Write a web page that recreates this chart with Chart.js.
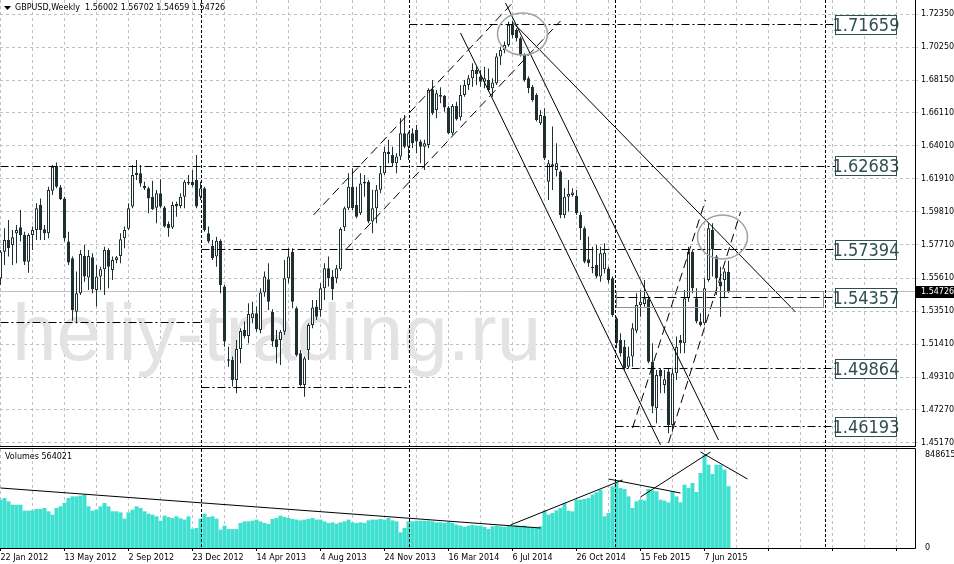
<!DOCTYPE html>
<html>
<head>
<meta charset="utf-8">
<script src="https://cdn.jsdelivr.net/npm/chart.js@4.4.1/dist/chart.umd.min.js"></script>
<style>
  html, body { margin: 0; padding: 0; background: #fff; }
  #wrap { position: relative; width: 954px; height: 564px; overflow: hidden; }
  #priceBox { position: absolute; left: 0; top: 0; width: 954px; height: 447px; }
  #volBox { position: absolute; left: 0; top: 447px; width: 954px; height: 117px; }
</style>
</head>
<body>
<div id="wrap">
  <div id="priceBox"><canvas id="priceChart"></canvas></div>
  <div id="volBox"><canvas id="volChart"></canvas></div>
</div>
<script>
// GBPUSD weekly bars (bar 0 = week of 22 Jan 2012)
const opens = [
  1.5559,1.5728,1.5802,1.5771,1.5845,1.5883,1.5834,1.5665,1.5834,1.5866,
  1.6024,1.5870,1.5845,1.6115,1.6271,1.6136,1.6066,1.5792,1.5686,1.5348,
  1.5464,1.5701,1.5564,1.5693,1.5485,1.5570,1.5616,1.5739,1.5612,1.5676,
  1.5701,1.5813,1.5874,1.6014,1.6229,1.6225,1.6144,1.6130,1.6077,1.6007,
  1.6098,1.6009,1.5904,1.5882,1.6030,1.6018,1.6077,1.6172,1.6172,1.6183,
  1.6077,1.6130,1.5845,1.5764,1.5697,1.5798,1.5507,1.5046,1.5042,1.4915,
  1.5111,1.5232,1.5194,1.5306,1.5337,1.5232,1.5469,1.5553,1.5348,1.5173,
  1.5168,1.5221,1.5559,1.5728,1.5369,1.5084,1.4883,1.5105,1.5264,1.5380,
  1.5359,1.5496,1.5623,1.5570,1.5559,1.5616,1.5883,1.6003,1.6140,1.6024,
  1.5971,1.6161,1.6172,1.5919,1.6003,1.6120,1.6225,1.6362,1.6341,1.6288,
  1.6331,1.6479,1.6394,1.6479,1.6500,1.6426,1.6394,1.6405,1.6758,1.6627,
  1.6711,1.6716,1.6643,1.6479,1.6652,1.6580,1.6722,1.6785,1.6827,1.6880,
  1.6838,1.6806,1.6817,1.6764,1.6796,1.6965,1.7007,1.7039,1.7165,1.7134,
  1.7081,1.6975,1.6827,1.6774,1.6722,1.6542,1.6588,1.6172,1.6282,1.6246,
  1.6236,1.5961,1.6077,1.6088,1.6081,1.5961,1.5876,1.5680,1.5623,1.5644,
  1.5570,1.5616,1.5622,1.5559,1.5306,1.5168,1.5126,1.4999,1.5063,1.5227,
  1.5390,1.5397,1.5426,1.5031,1.4735,1.4978,1.4883,1.4968,1.4630,1.4957,
  1.5168,1.5147,1.5433,1.5728,1.5433,1.5285,1.5274,1.5549,1.5866,1.5697,
  1.5538,1.5549,1.56002
];
const highs = [
  1.5739,1.5876,1.5929,1.5866,1.5897,1.5993,1.5855,1.5845,1.5887,1.6035,
  1.6066,1.5897,1.6140,1.6278,1.6293,1.6151,1.6077,1.5855,1.5697,1.5602,
  1.5739,1.5771,1.5739,1.5718,1.5644,1.5633,1.5760,1.5750,1.5697,1.5701,
  1.5845,1.5887,1.6035,1.6278,1.6309,1.6278,1.6172,1.6140,1.6178,1.6119,
  1.6187,1.6018,1.5919,1.6045,1.6045,1.6098,1.6183,1.6214,1.6246,1.6341,
  1.6172,1.6140,1.5887,1.5802,1.5823,1.5807,1.5517,1.5126,1.5063,1.5168,
  1.5243,1.5285,1.5401,1.5411,1.5380,1.5496,1.5602,1.5654,1.5363,1.5232,
  1.5232,1.5676,1.5750,1.5750,1.5380,1.5105,1.5063,1.5274,1.5422,1.5422,
  1.5528,1.5654,1.5697,1.5612,1.5644,1.5883,1.6014,1.6225,1.6257,1.6140,
  1.6225,1.6214,1.6183,1.6120,1.6151,1.6267,1.6394,1.6437,1.6394,1.6352,
  1.6574,1.6595,1.6489,1.6510,1.6532,1.6437,1.6437,1.6764,1.6817,1.6753,
  1.6770,1.6722,1.6652,1.6665,1.6679,1.6785,1.6817,1.6848,1.6922,1.6901,
  1.6880,1.6901,1.6890,1.6827,1.6986,1.7028,1.7060,1.7186,1.7191,1.7144,
  1.7091,1.6986,1.6838,1.6785,1.6732,1.6626,1.6637,1.6310,1.6521,1.6415,
  1.6246,1.6130,1.6183,1.6130,1.6119,1.5982,1.5887,1.5824,1.5760,1.5771,
  1.5760,1.5781,1.5633,1.5570,1.5316,1.5211,1.5168,1.5126,1.5274,1.5464,
  1.5485,1.5549,1.5443,1.5147,1.4978,1.4989,1.4978,1.4989,1.4989,1.5190,
  1.5200,1.5485,1.5760,1.5739,1.5496,1.5337,1.5559,1.5908,1.5908,1.5707,
  1.5633,1.5623,1.56702
];
const lows = [
  1.5517,1.5644,1.5697,1.5644,1.5654,1.5792,1.5644,1.5595,1.5739,1.5802,
  1.5802,1.5802,1.5813,1.6088,1.6130,1.6056,1.5792,1.5644,1.5290,1.5275,
  1.5454,1.5538,1.5485,1.5464,1.5380,1.5485,1.5454,1.5496,1.5549,1.5654,
  1.5654,1.5750,1.5866,1.6003,1.6183,1.6140,1.6119,1.5971,1.5993,1.5908,
  1.6003,1.5882,1.5823,1.5872,1.5950,1.6003,1.6003,1.6151,1.6140,1.6003,
  1.6056,1.5855,1.5781,1.5676,1.5633,1.5464,1.5126,1.4999,1.4873,1.4830,
  1.5021,1.5179,1.5147,1.5274,1.5221,1.5211,1.5443,1.5359,1.5126,1.5021,
  1.5010,1.5200,1.5528,1.5369,1.5063,1.4873,1.4809,1.5042,1.5242,1.5295,
  1.5316,1.5422,1.5507,1.5422,1.5528,1.5608,1.5860,1.5993,1.5993,1.5940,
  1.5961,1.6077,1.5908,1.5845,1.5908,1.6099,1.6214,1.6288,1.6267,1.6225,
  1.6310,1.6384,1.6310,1.6384,1.6352,1.6288,1.6246,1.6384,1.6595,1.6574,
  1.6669,1.6616,1.6475,1.6468,1.6560,1.6560,1.6711,1.6753,1.6774,1.6785,
  1.6774,1.6764,1.6743,1.6711,1.6785,1.6912,1.6986,1.7028,1.7081,1.7060,
  1.6965,1.6806,1.6732,1.6679,1.6553,1.6531,1.6310,1.6056,1.6119,1.6204,
  1.5940,1.5940,1.5982,1.6077,1.5961,1.5802,1.5654,1.5633,1.5591,1.5559,
  1.5538,1.5591,1.5528,1.5316,1.5116,1.5063,1.4978,1.4989,1.4999,1.5211,
  1.5316,1.5380,1.5021,1.4704,1.4640,1.4830,1.4830,1.4577,1.4587,1.4915,
  1.5084,1.5084,1.5411,1.5464,1.5274,1.5253,1.5264,1.5538,1.5570,1.5454,
  1.5316,1.5433,1.54659
];
const closes = [
  1.5728,1.5802,1.5750,1.5819,1.5866,1.5834,1.5665,1.5834,1.5866,1.6003,
  1.5866,1.5845,1.6119,1.6267,1.6140,1.6060,1.5813,1.5659,1.5359,1.5464,
  1.5714,1.5570,1.5701,1.5490,1.5570,1.5616,1.5739,1.5633,1.5676,1.5693,
  1.5807,1.5866,1.6003,1.6214,1.6214,1.6161,1.6130,1.6066,1.5997,1.6098,
  1.6014,1.5887,1.5876,1.6024,1.6014,1.6077,1.6172,1.6161,1.6151,1.6014,
  1.6130,1.5866,1.5792,1.5686,1.5798,1.5517,1.5158,1.5037,1.4915,1.5111,
  1.5226,1.5194,1.5333,1.5337,1.5236,1.5469,1.5570,1.5411,1.5158,1.5122,
  1.5221,1.5559,1.5697,1.5411,1.5073,1.4883,1.5052,1.5264,1.5375,1.5316,
  1.5496,1.5623,1.5559,1.5490,1.5623,1.5872,1.6003,1.6140,1.6003,1.5950,
  1.6161,1.6172,1.5919,1.6003,1.6120,1.6225,1.6362,1.6348,1.6288,1.6331,
  1.6479,1.6394,1.6479,1.6415,1.6426,1.6394,1.6415,1.6753,1.6605,1.6732,
  1.6722,1.6643,1.6479,1.6652,1.6567,1.6722,1.6785,1.6827,1.6880,1.6855,
  1.6806,1.6827,1.6753,1.6800,1.6965,1.7007,1.7039,1.7165,1.7102,1.7081,
  1.6975,1.6817,1.6764,1.6690,1.6563,1.6595,1.6320,1.6288,1.6267,1.6288,
  1.5961,1.6077,1.6094,1.6103,1.5971,1.5876,1.5665,1.5654,1.5633,1.5570,
  1.5718,1.5722,1.5549,1.5327,1.5147,1.5084,1.4989,1.5063,1.5242,1.5390,
  1.5411,1.5433,1.5031,1.4746,1.4947,1.4936,1.4919,1.4630,1.4957,1.5126,
  1.5147,1.5433,1.5728,1.5496,1.5285,1.5264,1.5496,1.5876,1.5743,1.5559,
  1.5507,1.5602,1.54726
];
const volumes = [
  441000,456000,426000,395000,395000,395000,341000,341000,344000,356000,
  356000,365000,335000,304000,365000,380000,411000,456000,471000,471000,
  478000,487000,380000,341000,350000,380000,411000,380000,335000,335000,
  325000,268000,325000,350000,380000,365000,335000,313000,304000,289000,
  249000,295000,283000,274000,289000,271000,259000,289000,176000,183000,
  268000,313000,283000,289000,268000,167000,204000,173000,173000,173000,
  228000,243000,243000,249000,259000,243000,228000,219000,265000,274000,
  295000,283000,274000,265000,259000,252000,259000,265000,274000,259000,
  259000,243000,228000,234000,222000,234000,243000,259000,234000,228000,
  234000,228000,252000,259000,259000,265000,259000,274000,252000,243000,
  143000,183000,243000,243000,249000,249000,249000,249000,243000,234000,
  234000,228000,237000,228000,213000,204000,192000,204000,210000,204000,
  204000,192000,173000,198000,204000,198000,192000,204000,198000,204000,
  198000,204000,192000,183000,183000,198000,341000,304000,319000,344000,
  365000,411000,341000,335000,441000,441000,447000,456000,487000,508000,
  532000,289000,319000,563000,599000,548000,538000,471000,365000,426000,
  441000,435000,538000,526000,517000,441000,432000,417000,517000,471000,
  417000,578000,548000,593000,511000,684000,848615,760000,675000,760000,
  760000,715000,564021
];
const dateLabels = ['22 Jan 2012', '13 May 2012', '2 Sep 2012', '23 Dec 2012', '14 Apr 2013', '4 Aug 2013',
  '24 Nov 2013', '16 Mar 2014', '6 Jul 2014', '26 Oct 2014', '15 Feb 2015', '7 Jun 2015'];
const priceTicks = [1.72350, 1.70250, 1.68150, 1.66110, 1.64010, 1.61910, 1.59810, 1.57710,
  1.55610, 1.53510, 1.51410, 1.49310, 1.47270, 1.45170];
const levelPrices = [1.71659, 1.62683, 1.57394, 1.54357, 1.49864, 1.46193];

// drawn objects, in (bar, price) / (bar, volume) units
const levelStarts = [102.25, 0, 50.25, 153.75, 153.75, 153.75];
const levelDashed = [false, false, false, true, false, false];
const shortLevels = [{ price: 1.5276, from: 0, to: 50.25 }, { price: 1.4870, from: 50.25, to: 102.25 }];
const vLines = [50.25, 102.25, 153.75, 206.25];
const trendLines = [
  { a: [78.25, 1.5961], b: [128, 1.7305], dash: [9, 5] },
  { a: [86.25, 1.5739], b: [140, 1.7191], dash: [9, 5] },
  { a: [115, 1.7115], b: [165, 1.4503], dash: [] },
  { a: [126.25, 1.7305], b: [179.5, 1.4534], dash: [] },
  { a: [128, 1.7184], b: [198.75, 1.5346], dash: [] },
  { a: [158, 1.4610], b: [176.25, 1.6056], dash: [9, 5] },
  { a: [167, 1.4515], b: [185, 1.5979], dash: [9, 5] }
];
const ellipses = [
  { c: [130.5, 1.7108], rx: 6.25, ry: 0.0133 },
  { c: [180.5, 1.5821], rx: 6.25, ry: 0.0139 }
];
const zoneBox = { a: [154, 1.5473], b: [205.75, 1.5371] };
const volLines = [
  { a: [0, 547500], b: [135, 182500] },
  { a: [127.5, 209875], b: [155.5, 620500] },
  { a: [152, 629625], b: [170, 501875] },
  { a: [160, 465375], b: [177.5, 876000] },
  { a: [175, 876000], b: [186.75, 629625] }
];

const viewStart = -0.125, viewEnd = 228.625;
const priceTop = 1.73238, priceBottom = 1.44898;
const levelBoxBar = 208.625;
const candleColor = '#1f3030';
const gridColor = '#c0c0c0';
const ink = '#2f4f4f';
const last = closes.length - 1;

const gridBars = [];
for (let b = 0; b <= 224; b += 8) gridBars.push(b);

Chart.defaults.font.family = '"DejaVu Sans", sans-serif';
Chart.defaults.font.size = 8;
Chart.defaults.color = '#000';

function xAxis(withLabels) {
  return {
    type: 'linear', min: viewStart, max: viewEnd, offset: false,
    afterBuildTicks: s => { s.ticks = gridBars.map(v => ({ value: v })); },
    afterFit: s => { s.height = withLabels ? 16 : 0; s.paddingLeft = 0; s.paddingRight = 0; },
    grid: { offset: false, color: gridColor, drawTicks: withLabels, tickLength: 3,
      tickColor: c => (c.tick && c.tick.value % 16 === 0 ? '#000' : 'rgba(0,0,0,0)') },
    border: { display: false, dash: [3, 3] },
    ticks: { display: withLabels, autoSkip: false, maxRotation: 0, minRotation: 0, align: 'start', padding: 2,
      callback: v => (v % 16 === 0 ? (dateLabels[v / 16] || '') : '') }
  };
}

function seg(ctx, p1, p2, dash, color, width) {
  ctx.beginPath();
  ctx.setLineDash(dash);
  ctx.strokeStyle = color;
  ctx.lineWidth = width;
  ctx.moveTo(p1[0], p1[1]);
  ctx.lineTo(p2[0], p2[1]);
  ctx.stroke();
}
const crisp = v => Math.floor(v) + 0.5;

const priceObjects = {
  id: 'priceObjects',
  beforeDatasetsDraw(chart) {
    const { ctx, chartArea: a, scales: { y } } = chart;
    ctx.save();
    ctx.beginPath(); ctx.rect(a.left, a.top, a.right - a.left, a.bottom - a.top); ctx.clip();
    ctx.font = '80px "Liberation Sans", Arial, sans-serif';
    ctx.fillStyle = '#e3e3e3';
    ctx.textBaseline = 'alphabetic';
    ctx.fillText('heliy-trading.ru', 12, 360);
    const cy = crisp(y.getPixelForValue(closes[last]));
    seg(ctx, [a.left, cy], [a.right, cy], [], '#c0c0c0', 1);
    ctx.restore();
  },
  afterDatasetsDraw(chart) {
    const { ctx, chartArea: a, scales: { x, y } } = chart;
    const P = p => [x.getPixelForValue(p[0]), y.getPixelForValue(p[1])];
    ctx.save();
    ctx.beginPath(); ctx.rect(a.left, a.top, a.right - a.left, a.bottom - a.top); ctx.clip();
    vLines.forEach(b => {
      const px = crisp(x.getPixelForValue(b));
      seg(ctx, [px, a.top], [px, a.bottom], [3, 2], '#000', 1);
    });
    shortLevels.forEach(l => {
      const py = crisp(y.getPixelForValue(l.price));
      seg(ctx, [x.getPixelForValue(l.from), py], [x.getPixelForValue(l.to), py], [8, 3, 2, 3], '#000', 1);
    });
    const boxX = Math.round(x.getPixelForValue(levelBoxBar));
    levelPrices.forEach((p, i) => {
      const py = crisp(y.getPixelForValue(p));
      seg(ctx, [x.getPixelForValue(levelStarts[i]), py], [boxX, py], levelDashed[i] ? [9, 4] : [8, 3, 2, 3], '#000', 1);
    });
    trendLines.forEach(t => seg(ctx, P(t.a), P(t.b), t.dash, '#000', 1));
    ctx.setLineDash([]);
    ctx.strokeStyle = '#a0a0a0';
    ctx.lineWidth = 1.5;
    ellipses.forEach(e => {
      const c = P(e.c);
      const rx = x.getPixelForValue(e.c[0] + e.rx) - c[0];
      const ry = y.getPixelForValue(e.c[1] - e.ry) - c[1];
      ctx.beginPath(); ctx.ellipse(c[0], c[1], rx, ry, 0, 0, Math.PI * 2); ctx.stroke();
    });
    const r1 = P(zoneBox.a), r2 = P(zoneBox.b);
    ctx.lineWidth = 1;
    ctx.strokeStyle = '#909090';
    ctx.strokeRect(crisp(r1[0]), crisp(r1[1]), Math.round(r2[0] - r1[0]), Math.round(r2[1] - r1[1]));
    // level price boxes
    ctx.font = '18px "Liberation Sans Narrow", "DejaVu Sans Condensed", sans-serif';
    ctx.textAlign = 'center';
    ctx.textBaseline = 'middle';
    levelPrices.forEach(p => {
      const py = Math.round(y.getPixelForValue(p));
      ctx.fillStyle = '#fff';
      ctx.fillRect(boxX, py - 9, 61, 19);
      ctx.strokeStyle = ink;
      ctx.strokeRect(boxX + 0.5, py - 9.5, 61, 19);
      ctx.fillStyle = ink;
      ctx.fillText(p.toFixed(5), boxX + 31, py + 1);
    });
    ctx.restore();
  },
  afterDraw(chart) {
    const { ctx, chartArea: a, scales: { y } } = chart;
    ctx.save();
    ctx.setLineDash([]);
    seg(ctx, [a.right + 0.5, 0], [a.right + 0.5, a.bottom], [], '#000', 1);
    seg(ctx, [0, a.bottom - 0.5], [a.right + 0.5, a.bottom - 0.5], [], '#000', 1);
    // title
    ctx.fillStyle = '#000';
    ctx.beginPath(); ctx.moveTo(4, 6); ctx.lineTo(11, 6); ctx.lineTo(7.5, 10); ctx.closePath(); ctx.fill();
    ctx.font = '8px "DejaVu Sans", sans-serif';
    ctx.textBaseline = 'middle';
    ctx.textAlign = 'left';
    ctx.fillText('GBPUSD,Weekly  ' + [opens[last], highs[last], lows[last], closes[last]].map(v => v.toFixed(5)).join(' '), 15, 8);
    // current price tag
    const py = Math.round(y.getPixelForValue(closes[last]));
    ctx.fillRect(a.right + 1, py - 6, 39, 12);
    ctx.fillStyle = '#fff';
    ctx.fillText(closes[last].toFixed(5), a.right + 6, py);
    ctx.restore();
  }
};

const volObjects = {
  id: 'volObjects',
  afterDatasetsDraw(chart) {
    const { ctx, chartArea: a, scales: { x, y } } = chart;
    const P = p => [x.getPixelForValue(p[0]), y.getPixelForValue(p[1])];
    ctx.save();
    ctx.beginPath(); ctx.rect(a.left, a.top, a.right - a.left, a.bottom - a.top); ctx.clip();
    vLines.forEach(b => {
      const px = crisp(x.getPixelForValue(b));
      seg(ctx, [px, a.top], [px, a.bottom], [3, 2], '#000', 1);
    });
    volLines.forEach(l => seg(ctx, P(l.a), P(l.b), [], '#000', 1));
    ctx.restore();
  },
  afterDraw(chart) {
    const { ctx, chartArea: a } = chart;
    ctx.save();
    seg(ctx, [0, a.top - 0.5], [a.right + 0.5, a.top - 0.5], [], '#000', 1);
    seg(ctx, [0, a.bottom + 0.5], [a.right + 0.5, a.bottom + 0.5], [], '#000', 1);
    seg(ctx, [a.right + 0.5, a.top - 0.5], [a.right + 0.5, a.bottom + 0.5], [], '#000', 1);
    ctx.fillStyle = '#000';
    ctx.font = '8px "DejaVu Sans", sans-serif';
    ctx.textBaseline = 'middle';
    ctx.fillText('Volumes ' + volumes[last], 5, a.top + 8);
    ctx.restore();
  }
};

const bars = opens.map((o, i) => i);
const bodyFill = bars.map(i => (closes[i] >= opens[i] ? '#ffffff' : candleColor));

new Chart(document.getElementById('priceChart'), {
  type: 'bar',
  data: {
    datasets: [
      { data: bars.map(i => ({ x: i, y: [opens[i], closes[i]] })), backgroundColor: bodyFill,
        borderColor: candleColor, borderWidth: 1, borderSkipped: false, barThickness: 3,
        grouped: false, minBarLength: 1, inflateAmount: 0, order: 1 },
      { data: bars.map(i => ({ x: i, y: [lows[i], highs[i]] })), backgroundColor: candleColor,
        borderWidth: 0, barThickness: 1, grouped: false, inflateAmount: 0, order: 2 }
    ]
  },
  options: {
    responsive: true, maintainAspectRatio: false, animation: false, events: [],
    layout: { padding: 0 },
    plugins: { legend: { display: false }, tooltip: { enabled: false } },
    scales: {
      x: xAxis(false),
      y: {
        type: 'linear', position: 'right', min: priceBottom, max: priceTop, beginAtZero: false,
        afterBuildTicks: s => { s.ticks = priceTicks.map(v => ({ value: v })); },
        afterFit: s => { s.width = 39; s.paddingTop = 0; s.paddingBottom = 0; },
        grid: { color: gridColor, tickLength: 3 },
        border: { display: false, dash: [3, 3] },
        ticks: { padding: 3, callback: v => v.toFixed(5) }
      }
    }
  },
  plugins: [priceObjects]
});

const volMax = Math.max(...volumes);
new Chart(document.getElementById('volChart'), {
  type: 'bar',
  data: {
    datasets: [
      { data: bars.map(i => ({ x: i, y: volumes[i] })), backgroundColor: '#40e0d0', borderWidth: 0,
        barThickness: 4, grouped: false, inflateAmount: 0 }
    ]
  },
  options: {
    responsive: true, maintainAspectRatio: false, animation: false, events: [],
    layout: { padding: { top: 2 } },
    plugins: { legend: { display: false }, tooltip: { enabled: false } },
    scales: {
      x: xAxis(true),
      y: {
        type: 'linear', position: 'right', min: 0, max: volMax * 99 / 93,
        afterBuildTicks: s => { s.ticks = [{ value: 0 }, { value: volMax }]; },
        afterFit: s => { s.width = 39; s.paddingTop = 0; s.paddingBottom = 0; },
        grid: { display: false },
        border: { display: false },
        ticks: { padding: 2, callback: v => String(Math.round(v)) }
      }
    }
  },
  plugins: [volObjects]
});
</script>
</body>
</html>
